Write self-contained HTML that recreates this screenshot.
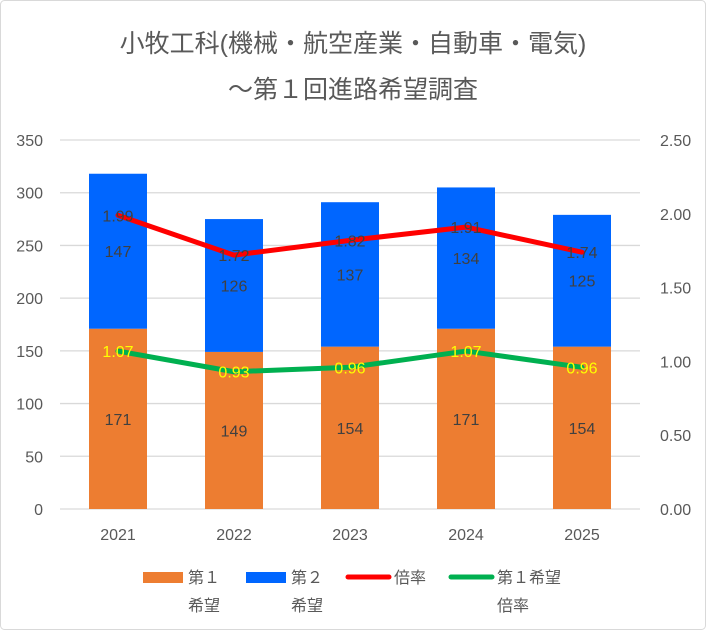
<!DOCTYPE html>
<html><head><meta charset="utf-8"><style>
body{margin:0;background:#fff}
svg{display:block;font-family:"Liberation Sans","Noto Sans CJK JP",sans-serif}
</style></head><body>
<svg width="706" height="630" viewBox="0 0 706 630">
<rect x="0.5" y="0.5" width="705" height="629" rx="4" fill="#fff" stroke="#d9d9d9"/>
<text x="353" y="52" text-anchor="middle" font-size="25" fill="#595959">小牧工科(機械・航空産業・自動車・電気)</text>
<text x="353" y="98" text-anchor="middle" font-size="25" fill="#595959">～第１回進路希望調査</text>
<g id="grid"></g><g id="bars"></g><g id="lines"></g><g id="labels"></g><g id="axes"></g>
<g font-size="16" fill="#595959">
<rect x="143" y="572" width="40" height="11" fill="#ED7D31"/>
<text x="188" y="583">第１</text>
<text x="188" y="611">希望</text>
<rect x="246" y="572" width="40" height="11" fill="#0066FF"/>
<text x="291" y="583">第２</text>
<text x="291" y="611">希望</text>
<line x1="348" y1="577" x2="389" y2="577" stroke="#FF0000" stroke-width="5" stroke-linecap="round"/>
<text x="394" y="583">倍率</text>
<line x1="451" y1="577" x2="492" y2="577" stroke="#00B050" stroke-width="5" stroke-linecap="round"/>
<text x="497" y="583">第１希望</text>
<text x="497" y="611">倍率</text>
</g>
</svg>
<script>
const categories=["2021","2022","2023","2024","2025"];
const firstChoice=[171,149,154,171,154];
const secondChoice=[147,126,137,134,125];
const ratio=[1.99,1.72,1.82,1.91,1.74];
const firstRatio=[1.07,0.93,0.96,1.07,0.96];
const leftTicks=[0,50,100,150,200,250,300,350];
const rightTicks=["0.00","0.50","1.00","1.50","2.00","2.50"];
const NS="http://www.w3.org/2000/svg";
const y0=509,yTop=140,plotL=60,plotR=640;
function yL(v){return y0-v/350*(y0-yTop);}
function yR(v){return y0-v/2.5*(y0-yTop);}
function xC(i){return plotL+(plotR-plotL)/categories.length*(i+0.5);}
function mk(tag,attrs,parent,txt){const e=document.createElementNS(NS,tag);for(const k in attrs)e.setAttribute(k,attrs[k]);if(txt!==undefined)e.textContent=txt;document.getElementById(parent).appendChild(e);return e;}
leftTicks.forEach(t=>{
 const g=mk('line',{x1:plotL,x2:plotR,y1:yL(t),y2:yL(t),stroke:'#d9d9d9','stroke-width':1.3},'grid');
 
 
 const l=mk('text',{x:43,y:yL(t)+6,'text-anchor':'end','font-size':16,fill:'#595959'},'axes',t);
 
 
});
rightTicks.forEach(t=>{
 const l=mk('text',{x:660,y:yR(+t)+6,'font-size':16,fill:'#595959'},'axes',t);
 
 
});
const bw=58;
categories.forEach((c,i)=>{
 const x=xC(i);
 const b1=mk('rect',{x:x-bw/2,y:yL(firstChoice[i]),width:bw,height:y0-yL(firstChoice[i]),fill:'#ED7D31'},'bars');
 
 
 const top=firstChoice[i]+secondChoice[i];
 const b2=mk('rect',{x:x-bw/2,y:yL(top),width:bw,height:yL(firstChoice[i])-yL(top),fill:'#0066FF'},'bars');
 
 
 const t1=mk('text',{x:x,y:(yL(firstChoice[i])+y0)/2+6,'text-anchor':'middle','font-size':16,fill:'#404040'},'labels',firstChoice[i]);
 
 
 const t2=mk('text',{x:x,y:(yL(firstChoice[i])+yL(top))/2+6,'text-anchor':'middle','font-size':16,fill:'#404040'},'labels',secondChoice[i]);
 
 
 const xl=mk('text',{x:x,y:540,'text-anchor':'middle','font-size':16,fill:'#595959'},'axes',c);
 
 
});
function line(vals,color,name,lblColor){
 const p=mk('polyline',{points:vals.map((v,i)=>xC(i)+','+yR(v)).join(' '),fill:'none',stroke:color,'stroke-width':5,'stroke-linejoin':'round','stroke-linecap':'round'},'lines');
 
 
 vals.forEach((v,i)=>{
  const t=mk('text',{x:xC(i),y:yR(v)+6,'text-anchor':'middle','font-size':16,fill:lblColor},'labels',v.toFixed(2));
  
  
 });
}
line(ratio,'#FF0000','ratio-line','#404040');
line(firstRatio,'#00B050','first-ratio-line','#FFFF00');
</script>
</body></html>
